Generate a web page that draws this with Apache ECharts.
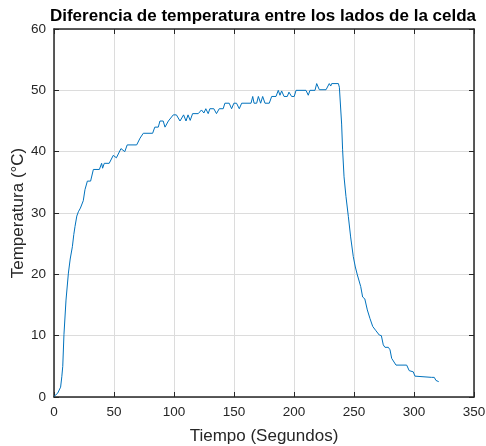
<!DOCTYPE html>
<html>
<head>
<meta charset="utf-8">
<script src="https://cdn.jsdelivr.net/npm/echarts@6/dist/echarts.min.js"></script>
<style>
  html, body { margin: 0; padding: 0; background: #fff; }
  #chart { width: 486px; height: 446px; }
</style>
</head>
<body>
<div id="chart"></div>
<script>
// datos
var tiempo = [0, 1, 3, 4.5, 5.5, 6.5, 7.3, 8.3, 10, 12, 13.5, 15.3, 16.5, 17.5, 19, 20.3, 22, 24.4, 25.8, 27.8,
  30.5, 32.8, 37.8, 39.7, 40.5, 41.9, 46, 49.4, 52, 55.8, 59, 61, 68.9, 71.7, 74.4, 82.2, 84, 86.9, 88.3, 91,
  92.5, 95.3, 99.4, 102, 105, 108, 110, 111.7, 113.5, 115.5, 120.2, 122.9, 124.9, 126.5, 128.5, 129.9, 133.2,
  135.4, 137.7, 141, 142.4, 146, 148, 149.9, 152.1, 154.4, 156.4, 164.2, 165.6, 166.7, 168.9, 170.3, 172.2,
  173.9, 175.8, 179.4, 181.4, 185, 186.9, 188.3, 189.7, 191.7, 194.4, 195.8, 198, 200.2, 201.7, 210, 211.9,
  213.3, 217.5, 218.9, 221.1, 226.7, 229.4, 230.6, 231.4, 237, 237.8, 239.7, 240.5, 241.7, 243.3, 245.3,
  247.2, 249.4, 251.1, 252.8, 254.4, 255.6, 257.2, 259, 261.1, 263.3, 265.6, 268.3, 271.1, 272.8, 274.4,
  275.8, 278.6, 280, 281.4, 282.8, 285, 293.9, 296, 299.4, 300.8, 302.2, 314.7, 316.1, 316.9, 318.3, 319.4, 320.6];
var temperatura = [0.1, 0, 0.6, 0.7, 1.6, 3.3, 5, 10.2, 15.8, 20.2, 22.5, 24.5, 26.5, 27.8, 29.5, 30.2, 30.8, 32, 33.8, 35.2,
  35.2, 37.1, 37.1, 38.1, 37.3, 38.1, 38.1, 39.4, 39, 40.5, 40, 41.1, 41.1, 42.2, 43, 43, 44, 44, 45, 45,
  44, 45, 46, 46, 45, 46, 45, 46, 45.1, 46.2, 46.2, 46.8, 46.3, 47, 46.2, 47, 47,
  46.2, 47, 47, 47.9, 47.9, 47, 47.9, 47.9, 47, 47.9, 47.9, 49, 47.9, 47.9, 49, 47.9,
  49, 47.9, 47.9, 49, 49, 50, 49.2, 49.9, 49, 49, 49.7, 49, 49, 50, 50, 49.2,
  50, 50, 51.1, 50.1, 50.1, 51.1, 50.7, 51.1, 51.1, 50.5, 44.5, 40.3, 35.9, 32.7, 29.4,
  26.1, 22.9, 21.2, 19.9, 19.7, 18, 16.3, 16, 14.2, 12.8, 11.5, 10.8, 10.1, 10, 8.5,
  8.1, 8.1, 7.7, 6.3, 6.6, 5.2, 5.2, 4.3, 4.1, 3.4, 3.2, 3.2, 2.9, 3.2, 2.7, 3.0, 2.5];

var serie = tiempo.map(function (t, i) { return [t, temperatura[i]]; });

var fuente = 'Liberation Sans, Arial, sans-serif';
var colorTexto = '#262626';

function ejeX(principal) {
  return {
    type: 'value', min: 0, max: 350, interval: 50,
    position: principal ? 'bottom' : 'top',
    name: principal ? 'Tiempo (Segundos)' : '',
    nameLocation: 'middle', nameGap: 31,
    nameTextStyle: { fontFamily: fuente, fontSize: 17, color: colorTexto },
    axisLine: { show: true, onZero: false, lineStyle: { color: '#262626', width: 1.5 } },
    axisTick: { show: true, inside: true, length: 5, lineStyle: { color: '#262626' } },
    axisLabel: { show: principal, fontFamily: fuente, fontSize: 13.5, color: colorTexto, margin: 8 },
    splitLine: { show: principal, lineStyle: { color: '#dcdcdc', width: 1 } }
  };
}

function ejeY(principal) {
  return {
    type: 'value', min: 0, max: 60, interval: 10,
    position: principal ? 'left' : 'right',
    name: principal ? 'Temperatura (°C)' : '',
    nameLocation: 'middle', nameGap: 27, nameMoveOverlap: false,
    nameTextStyle: { fontFamily: fuente, fontSize: 17, color: colorTexto },
    axisLine: { show: true, onZero: false, lineStyle: { color: '#262626', width: 1.5 } },
    axisTick: { show: true, inside: true, length: 5, lineStyle: { color: '#262626' } },
    axisLabel: { show: principal, fontFamily: fuente, fontSize: 13.5, color: colorTexto, margin: 8 },
    splitLine: { show: principal, lineStyle: { color: '#dcdcdc', width: 1 } }
  };
}

var grafico = echarts.init(document.getElementById('chart'));
grafico.setOption({
  animation: false,
  backgroundColor: '#ffffff',
  title: {
    text: 'Diferencia de temperatura entre los lados de la celda',
    left: 258, top: 3, textAlign: 'center',
    textStyle: { fontFamily: fuente, fontSize: 17, fontWeight: 'bold', color: '#000' }
  },
  grid: { left: 54, right: 12, top: 29, bottom: 49, containLabel: false, outerBoundsMode: 'none' },
  xAxis: [ejeX(true), ejeX(false)],
  yAxis: [ejeY(true), ejeY(false)],
  series: [{
    type: 'line',
    data: serie,
    showSymbol: false,
    lineStyle: { color: '#0072BD', width: 1 },
    z: 5
  }]
});
</script>
</body>
</html>
